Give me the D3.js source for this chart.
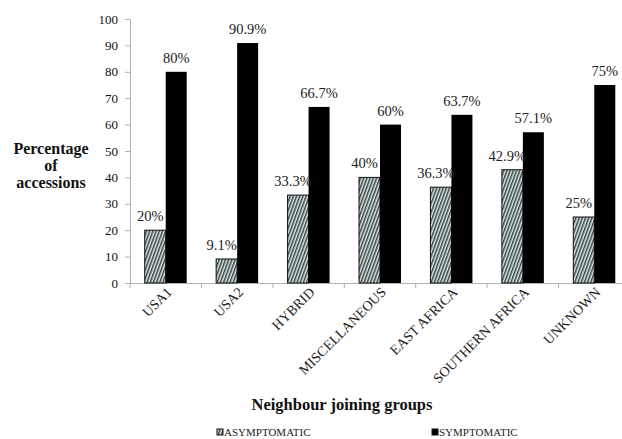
<!DOCTYPE html>
<html>
<head>
<meta charset="utf-8">
<script src="https://cdn.jsdelivr.net/npm/d3@7"></script>
<style>
	body { margin: 0; background: #fff; }
	svg text { font-family: "Liberation Serif", "Times New Roman", serif; }
</style>
</head>
<body>
<div class="chart-container"></div>
<script>
////////////////////////////////////////////////////////////
//// Data //////////////////////////////////////////////////
////////////////////////////////////////////////////////////
const groups = ["USA1", "USA2", "HYBRID", "MISCELLANEOUS", "EAST AFRICA", "SOUTHERN AFRICA", "UNKNOWN"];
const asymptomatic = [20, 9.1, 33.3, 40, 36.3, 42.9, 25];
const symptomatic = [80, 90.9, 66.7, 60, 63.7, 57.1, 75];
const seriesNames = ["ASYMPTOMATIC", "SYMPTOMATIC"];
const yTicks = [0, 10, 20, 30, 40, 50, 60, 70, 80, 90, 100];

////////////////////////////////////////////////////////////
//// Setup /////////////////////////////////////////////////
////////////////////////////////////////////////////////////
const width = 622;
const height = 439;
const margin = { left: 130, top: 19, bottom: 156 };
const plotRight = 630;
const barWidth = 21;

const svg = d3
	.select(".chart-container")
	.append("svg")
	.attr("width", width)
	.attr("height", height);

const x = d3
	.scaleBand()
	.domain(groups)
	.range([margin.left, plotRight]);

const y = d3
	.scaleLinear()
	.domain([0, 100])
	.range([height - margin.bottom, margin.top]);

// hatch pattern for the asymptomatic bars
const defs = svg.append("defs");
const hatch = defs
	.append("pattern")
	.attr("id", "hatch")
	.attr("patternUnits", "userSpaceOnUse")
	.attr("width", 3)
	.attr("height", 3)
	.attr("patternTransform", "rotate(20)");
hatch.append("rect").attr("width", 3).attr("height", 3).attr("fill", "#dcecec");
hatch
	.append("line")
	.attr("x1", 0.75)
	.attr("x2", 0.75)
	.attr("y1", 0)
	.attr("y2", 3)
	.attr("stroke", "#2e3535")
	.attr("stroke-width", 1.4);

////////////////////////////////////////////////////////////
//// Render ////////////////////////////////////////////////
////////////////////////////////////////////////////////////
// y axis
svg
	.append("g")
	.attr("transform", `translate(${margin.left},0)`)
	.call(d3.axisLeft(y).tickValues(yTicks).tickSize(5).tickPadding(7).tickSizeOuter(0))
	.attr("font-family", null)
	.call(g => g.selectAll("path, line").attr("stroke", "#b0b0b0"))
	.call(g => g.selectAll("text").attr("font-size", 13).attr("fill", "#111"));

// x axis
svg
	.append("g")
	.attr("transform", `translate(0,${y(0)})`)
	.call(d3.axisBottom(x).tickSize(0).tickSizeOuter(0).tickFormat(""))
	.call(g => g.select(".domain").attr("stroke", "#b0b0b0"));

// band separator ticks
svg
	.append("g")
	.selectAll("line")
	.data(groups)
	.join("line")
	.attr("x1", d => x(d))
	.attr("x2", d => x(d))
	.attr("y1", y(0))
	.attr("y2", y(0) + 5)
	.attr("stroke", "#b0b0b0");

// rotated category labels
svg
	.append("g")
	.selectAll("text")
	.data(groups)
	.join("text")
	.attr("text-anchor", "end")
	.attr("font-size", 14)
	.attr("fill", "#222")
	.attr("transform", d => `translate(${x(d) + x.bandwidth() / 2 + 7},${y(0) + 10}) rotate(-45)`)
	.text(d => d);

const center = d => x(d) + x.bandwidth() / 2;

// asymptomatic bars
svg
	.append("g")
	.selectAll("rect")
	.data(groups)
	.join("rect")
	.attr("x", d => center(d) - barWidth)
	.attr("y", (d, i) => y(asymptomatic[i]))
	.attr("width", barWidth)
	.attr("height", (d, i) => y(0) - y(asymptomatic[i]))
	.attr("fill", "url(#hatch)")
	.attr("stroke", "#111")
	.attr("stroke-width", 1);

// symptomatic bars
svg
	.append("g")
	.selectAll("rect")
	.data(groups)
	.join("rect")
	.attr("x", d => center(d))
	.attr("y", (d, i) => y(symptomatic[i]))
	.attr("width", barWidth)
	.attr("height", (d, i) => y(0) - y(symptomatic[i]))
	.attr("fill", "#000");

// value labels
svg
	.append("g")
	.selectAll("text")
	.data(groups)
	.join("text")
	.attr("x", d => center(d) - barWidth / 2 - 5)
	.attr("y", (d, i) => y(asymptomatic[i]) - 9)
	.attr("text-anchor", "middle")
	.attr("font-size", 14.5)
	.attr("fill", "#222")
	.text((d, i) => `${asymptomatic[i]}%`);

svg
	.append("g")
	.selectAll("text")
	.data(groups)
	.join("text")
	.attr("x", d => center(d) + barWidth / 2)
	.attr("y", (d, i) => y(symptomatic[i]) - 9)
	.attr("text-anchor", "middle")
	.attr("font-size", 14.5)
	.attr("fill", "#222")
	.text((d, i) => `${symptomatic[i]}%`);

// axis titles
svg
	.append("text")
	.attr("x", 51)
	.attr("y", 154)
	.attr("text-anchor", "middle")
	.attr("font-size", 16)
	.attr("font-weight", "bold")
	.attr("fill", "#111")
	.selectAll("tspan")
	.data(["Percentage", "of", "accessions"])
	.join("tspan")
	.attr("x", 51)
	.attr("dy", (d, i) => (i === 0 ? 0 : 17))
	.text(d => d);

svg
	.append("text")
	.attr("x", 342)
	.attr("y", 410)
	.attr("text-anchor", "middle")
	.attr("font-size", 16.5)
	.attr("font-weight", "bold")
	.attr("fill", "#111")
	.text("Neighbour joining groups");

// legend
const legend = svg
	.append("g")
	.selectAll("g")
	.data(seriesNames)
	.join("g")
	.attr("transform", (d, i) => `translate(${[217, 432][i]},436)`);
legend
	.append("rect")
	.attr("x", 0)
	.attr("y", -7)
	.attr("width", 6)
	.attr("height", 6)
	.attr("fill", (d, i) => (i === 0 ? "url(#hatch)" : "#000"))
	.attr("stroke", "#111");
legend
	.append("text")
	.attr("x", 7)
	.attr("font-size", 11)
	.attr("fill", "#222")
	.text(d => d);
</script>
</body>
</html>
